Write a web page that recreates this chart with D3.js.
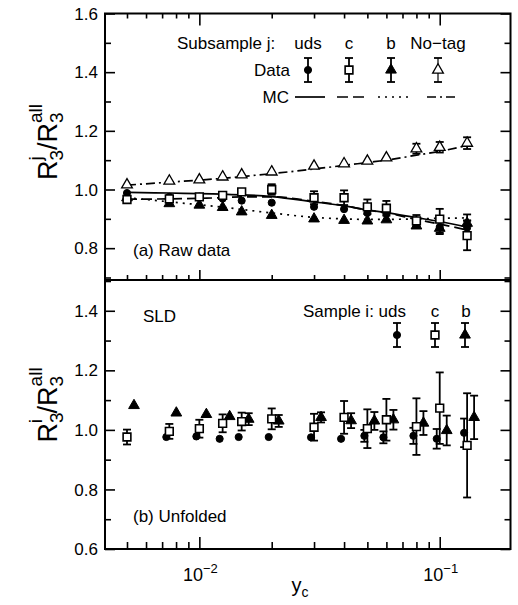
<!DOCTYPE html>
<html>
<head>
<meta charset="utf-8">
<script src="https://cdnjs.cloudflare.com/ajax/libs/d3/7.8.5/d3.min.js"></script>
<style>
  body { margin: 0; background: #fff; }
  svg { display: block; }
  text { font-family: "Liberation Sans", Arial, Helvetica, sans-serif; fill: #000; }
</style>
</head>
<body>
<div id="chart"></div>
<script>
// y_c bin values shared by all series
const yc = [0.005, 0.0075, 0.01, 0.0125, 0.015, 0.02, 0.03, 0.04, 0.05, 0.06, 0.08, 0.10, 0.13];

// (a) raw data, subsample j
const rawUds = [0.988, 0.975, 0.976, 0.969, 0.962, 0.955, 0.941, 0.933, 0.920, 0.917, 0.880, 0.872, 0.870];
const rawUdsErr = [0.003, 0.004, 0.004, 0.005, 0.005, 0.006, 0.008, 0.010, 0.012, 0.012, 0.015, 0.020, 0.025];
const rawC = [0.966, 0.968, 0.975, 0.980, 0.992, 1.000, 0.972, 0.972, 0.941, 0.936, 0.893, 0.899, 0.843];
const rawCErr = [0.010, 0.010, 0.012, 0.012, 0.015, 0.018, 0.022, 0.025, 0.025, 0.025, 0.020, 0.035, 0.050];
const rawB = [0.972, 0.952, 0.947, 0.939, 0.924, 0.912, 0.900, 0.895, 0.893, 0.897, 0.876, 0.868, 0.885];
const rawBErr = [0.004, 0.005, 0.005, 0.006, 0.006, 0.008, 0.012, 0.015, 0.015, 0.015, 0.015, 0.020, 0.030];
const rawNotag = [1.016, 1.029, 1.033, 1.043, 1.050, 1.060, 1.080, 1.088, 1.097, 1.108, 1.139, 1.144, 1.158];
const rawNotagErr = [0.003, 0.003, 0.003, 0.004, 0.004, 0.005, 0.006, 0.007, 0.010, 0.012, 0.017, 0.018, 0.020];

// MC curves
const mcUds = [0.990, 0.988, 0.986, 0.984, 0.982, 0.976, 0.958, 0.944, 0.930, 0.921, 0.904, 0.891, 0.872];
const mcC = [0.967, 0.968, 0.970, 0.972, 0.975, 0.975, 0.960, 0.945, 0.930, 0.920, 0.898, 0.882, 0.862];
const mcB = [0.972, 0.958, 0.948, 0.940, 0.932, 0.920, 0.905, 0.900, 0.898, 0.898, 0.900, 0.902, 0.903];
const mcNotag = [1.015, 1.025, 1.032, 1.038, 1.044, 1.054, 1.070, 1.082, 1.092, 1.100, 1.117, 1.130, 1.150];

// (b) unfolded, sample i
const unfUds = [null, 0.976, 0.978, 0.970, 0.976, 0.976, 0.975, 0.970, 0.980, 0.975, 0.980, 0.970, 0.990];
const unfUdsErr = [0, 0.005, 0.006, 0.006, 0.006, 0.006, 0.010, 0.012, 0.020, 0.020, 0.027, 0.033, 0.048];
const unfC = [0.976, 0.995, 1.004, 1.022, 1.028, 1.037, 1.009, 1.042, 1.004, 1.034, 1.011, 1.073, 0.948];
const unfCErr = [0.025, 0.025, 0.030, 0.030, 0.030, 0.035, 0.045, 0.055, 0.065, 0.070, 0.095, 0.120, 0.175];
const unfB = [1.082, 1.057, 1.052, 1.045, 1.036, 1.030, 1.042, 1.031, 1.030, 1.034, 1.023, 0.998, 1.042];
const unfBErr = [0.005, 0.006, 0.012, 0.015, 0.020, 0.020, 0.017, 0.025, 0.030, 0.033, 0.040, 0.050, 0.073];

// axis ticks
const yTicksTop = [0.8, 1.0, 1.2, 1.4, 1.6];
const yTicksBottom = [0.6, 0.8, 1.0, 1.2, 1.4];
const xMajor = [0.01, 0.1];
const xMinor = [0.005, 0.006, 0.007, 0.008, 0.009, 0.02, 0.03, 0.04, 0.05, 0.06, 0.07, 0.08, 0.09];

const width = 518, height = 605;
const fLeft = 105, fRight = 510.5, fTop = 13.5, fMid = 280, fBottom = 549;

const svg = d3.select("#chart").append("svg")
    .attr("width", width)
    .attr("height", height);

// scales
const x = d3.scaleLog().domain([0.00405, 0.197]).range([fLeft, fRight]);
const yTop = d3.scaleLinear().domain([0.7, 1.6]).range([277.5, fTop]);
const yBot = d3.scaleLinear().domain([0.6, 1.5]).range([fBottom, 281]);

const minorY = (lo, hi) => d3.range(Math.round(lo * 10), Math.round(hi * 10) + 1).map(v => v / 10);

// ---------- frames and ticks ----------
function yAxes(y, major, lo, hi) {
    const minor = minorY(lo, hi).filter(v => !major.some(m => Math.abs(m - v) < 1e-6));
    // left inner ticks
    svg.append("g").attr("transform", `translate(${fLeft},0)`)
        .call(d3.axisRight(y).tickValues(major).tickSize(10).tickFormat(""));
    svg.append("g").attr("transform", `translate(${fLeft},0)`)
        .call(d3.axisRight(y).tickValues(minor).tickSize(6).tickFormat(""));
    // right inner ticks
    svg.append("g").attr("transform", `translate(${fRight},0)`)
        .call(d3.axisLeft(y).tickValues(major).tickSize(10).tickFormat(""));
    svg.append("g").attr("transform", `translate(${fRight},0)`)
        .call(d3.axisLeft(y).tickValues(minor).tickSize(6).tickFormat(""));
    // labels
    svg.append("g").selectAll("text")
        .data(major)
        .enter().append("text")
        .attr("x", fLeft - 7)
        .attr("y", d => y(d))
        .attr("dy", "0.36em")
        .attr("text-anchor", "end")
        .style("font-size", "17px")
        .text(d => d.toFixed(1));
}
yAxes(yTop, yTicksTop, 0.7, 1.6);
yAxes(yBot, yTicksBottom, 0.6, 1.5);

function xTicks(ypos, dir, majorLen, minorLen) {
    const ax = dir === "down" ? d3.axisBottom : d3.axisTop;
    svg.append("g").attr("transform", `translate(0,${ypos})`)
        .call(ax(x).tickValues(xMajor).tickSize(majorLen).tickFormat(""));
    svg.append("g").attr("transform", `translate(0,${ypos})`)
        .call(ax(x).tickValues(xMinor).tickSize(minorLen).tickFormat(""));
}
xTicks(fTop, "down", 12, 5);
xTicks(fMid, "up", 10, 5);
xTicks(fBottom, "up", 12, 7);

svg.selectAll(".domain").remove();
svg.selectAll(".tick line").attr("stroke", "#000").attr("stroke-width", 1.6);

// frame
svg.append("rect")
    .attr("x", fLeft).attr("y", fTop)
    .attr("width", fRight - fLeft).attr("height", fBottom - fTop)
    .attr("fill", "none").attr("stroke", "#000").attr("stroke-width", 2);
svg.append("line")
    .attr("x1", fLeft).attr("x2", fRight).attr("y1", fMid).attr("y2", fMid)
    .attr("stroke", "#000").attr("stroke-width", 2);

// x tick labels 10^-2, 10^-1
xMajor.forEach(v => {
    const t = svg.append("text")
        .attr("x", x(v) + 1)
        .attr("y", 581)
        .attr("text-anchor", "middle")
        .style("font-size", "18px");
    t.append("tspan").text("10");
    t.append("tspan").attr("dy", -8).style("font-size", "13px").text("\u2212" + Math.round(-Math.log10(v)));
});

// x axis title
const xt = svg.append("text").attr("x", 300).attr("y", 592).attr("text-anchor", "middle").style("font-size", "20px");
xt.append("tspan").text("y");
xt.append("tspan").attr("dy", 5).style("font-size", "14px").text("c");

// y axis titles (rotated), super over sub
function yTitle(cx, cy, supTxt) {
    const g = svg.append("g").attr("transform", `translate(${cx},${cy}) rotate(-90)`);
    const t = g.append("text").attr("text-anchor", "middle").style("font-size", "27px");
    t.append("tspan").text("R");
    t.append("tspan").attr("dy", 6).style("font-size", "19px").text("3");
    t.append("tspan").attr("dx", -10.6).attr("dy", -21).style("font-size", "19px").text(supTxt);
    t.append("tspan").attr("dx", supTxt === "j" ? 6.4 : 5.5).attr("dy", 15).text("/");
    t.append("tspan").text("R");
    t.append("tspan").attr("dy", 6).style("font-size", "19px").text("3");
    t.append("tspan").attr("dx", -10.6).attr("dy", -21).style("font-size", "19px").text("all");
}
yTitle(57, 142, "j");
yTitle(57, 405, "i");

// ---------- marker helpers ----------
const sym = {
    circle: d3.symbol().type(d3.symbolCircle).size(40),
    square: d3.symbol().type(d3.symbolSquare).size(60),
    triangle: d3.symbol().type(d3.symbolTriangle).size(50)
};
const styles = {
    uds: { shape: "circle", fill: "#000", stroke: "#000", sw: 1 },
    c: { shape: "square", fill: "#fff", stroke: "#000", sw: 1.6 },
    b: { shape: "triangle", fill: "#000", stroke: "#000", sw: 1 },
    notag: { shape: "triangle", fill: "#fff", stroke: "#000", sw: 1.3 }
};

function drawSeries(y, vals, errs, st, dx) {
    const pts = yc.map((v, i) => ({ x: x(v) + dx, v: vals[i], e: errs[i] })).filter(d => d.v != null);
    const g = svg.append("g");
    const withErr = pts.filter(d => (y(d.v - d.e) - y(d.v + d.e)) > 9);
    g.selectAll(".eb").data(withErr).enter().append("line")
        .attr("x1", d => d.x).attr("x2", d => d.x)
        .attr("y1", d => y(d.v - d.e)).attr("y2", d => y(d.v + d.e))
        .attr("stroke", "#000").attr("stroke-width", 1.8);
    [1, -1].forEach(s => {
        g.selectAll(".cap" + s).data(withErr).enter().append("line")
            .attr("x1", d => d.x - 4).attr("x2", d => d.x + 4)
            .attr("y1", d => y(d.v + s * d.e)).attr("y2", d => y(d.v + s * d.e))
            .attr("stroke", "#000").attr("stroke-width", 1.8);
    });
    g.selectAll(".m").data(pts).enter().append("path")
        .attr("transform", d => `translate(${d.x},${y(d.v)})`)
        .attr("d", sym[st.shape]())
        .attr("fill", st.fill).attr("stroke", st.stroke).attr("stroke-width", st.sw);
}

function drawMC(vals, dash) {
    const line = d3.line()
        .x((d, i) => x(yc[i]))
        .y(d => yTop(d))
        .curve(d3.curveMonotoneX);
    svg.append("path")
        .attr("d", line(vals))
        .attr("fill", "none").attr("stroke", "#000").attr("stroke-width", 1.7)
        .attr("stroke-dasharray", dash);
}

// ---------- panel (a) ----------
drawMC(mcNotag, "9,4,2,4");
drawMC(mcB, "2,5");
drawMC(mcC, "10,5");
drawMC(mcUds, null);
drawSeries(yTop, rawNotag, rawNotagErr, styles.notag, 0);
drawSeries(yTop, rawB, rawBErr, styles.b, 0);
drawSeries(yTop, rawUds, rawUdsErr, styles.uds, 0);
drawSeries(yTop, rawC, rawCErr, styles.c, 0);

// legend (a)
const fs = "17px";
svg.append("text").attr("x", 177).attr("y", 49).style("font-size", fs).text("Subsample j:");
const legCols = [
    { name: "uds", x: 308, st: styles.uds, dash: null, l0: 295, l1: 325 },
    { name: "c", x: 349, st: styles.c, dash: "11,5", l0: 337, l1: 364 },
    { name: "b", x: 391, st: styles.b, dash: "2,5", l0: 378, l1: 411 },
    { name: "No\u2212tag", x: 438, st: styles.notag, dash: "9,4,2,4", l0: 427, l1: 459 }
];
legCols.forEach(c => {
    svg.append("text").attr("x", c.x).attr("y", 49).attr("text-anchor", "middle").style("font-size", fs).text(c.name);
    svg.append("line").attr("x1", c.x).attr("x2", c.x).attr("y1", 58).attr("y2", 82)
        .attr("stroke", "#000").attr("stroke-width", c.st === styles.notag ? 1.2 : 1.8);
    [58, 82].forEach(yy => svg.append("line").attr("x1", c.x - 4).attr("x2", c.x + 4).attr("y1", yy).attr("y2", yy)
        .attr("stroke", "#000").attr("stroke-width", 1.8));
    svg.append("path").attr("transform", `translate(${c.x},70)`).attr("d", sym[c.st.shape]())
        .attr("fill", c.st.fill).attr("stroke", c.st.stroke).attr("stroke-width", c.st.sw);
    svg.append("line").attr("x1", c.l0).attr("x2", c.l1).attr("y1", 97).attr("y2", 97)
        .attr("stroke", "#000").attr("stroke-width", 1.7).attr("stroke-dasharray", c.dash);
});
svg.append("text").attr("x", 290).attr("y", 76).attr("text-anchor", "end").style("font-size", fs).text("Data");
svg.append("text").attr("x", 289).attr("y", 103).attr("text-anchor", "end").style("font-size", fs).text("MC");
svg.append("text").attr("x", 133).attr("y", 256).style("font-size", fs).text("(a)  Raw data");

// ---------- panel (b) ----------
drawSeries(yBot, unfB, unfBErr, styles.b, 7);
drawSeries(yBot, unfUds, unfUdsErr, styles.uds, -3);
drawSeries(yBot, unfC, unfCErr, styles.c, 0);

svg.append("text").attr("x", 143).attr("y", 322).style("font-size", fs).text("SLD");
svg.append("text").attr("x", 303).attr("y", 317).style("font-size", fs).text("Sample i: uds");
svg.append("text").attr("x", 435).attr("y", 317).attr("text-anchor", "middle").style("font-size", fs).text("c");
svg.append("text").attr("x", 466).attr("y", 317).attr("text-anchor", "middle").style("font-size", fs).text("b");
[{ x: 397, st: styles.uds }, { x: 435, st: styles.c }, { x: 465, st: styles.b }].forEach(c => {
    svg.append("line").attr("x1", c.x).attr("x2", c.x).attr("y1", 323).attr("y2", 347)
        .attr("stroke", "#000").attr("stroke-width", 1.8);
    [323, 347].forEach(yy => svg.append("line").attr("x1", c.x - 4).attr("x2", c.x + 4).attr("y1", yy).attr("y2", yy)
        .attr("stroke", "#000").attr("stroke-width", 1.8));
    svg.append("path").attr("transform", `translate(${c.x},335)`).attr("d", sym[c.st.shape]())
        .attr("fill", c.st.fill).attr("stroke", c.st.stroke).attr("stroke-width", c.st.sw);
});
svg.append("text").attr("x", 133).attr("y", 522).style("font-size", fs).text("(b)  Unfolded");
</script>
</body>
</html>
